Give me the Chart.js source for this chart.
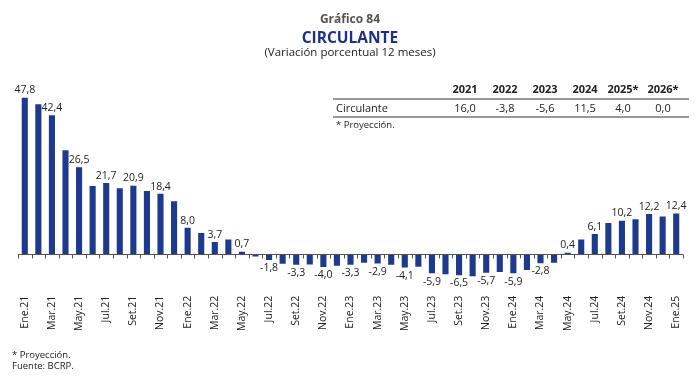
<!DOCTYPE html>
<html>
<head>
<meta charset="utf-8">
<script src="https://cdn.jsdelivr.net/npm/chart.js@4.4.1/dist/chart.umd.min.js"></script>
<style>
  body { margin: 0; background: #fff; font-family: 'Open Sans', sans-serif; }
  #wrap { position: relative; width: 700px; height: 382px; }
  #grafico { position: absolute; left: 0; top: 0; }
  .txt { position: absolute; white-space: nowrap; }
  .centro { left: 0; width: 700px; text-align: center; }
  #tabla { position: absolute; left: 333px; top: 80px; width: 356px; font-size: 11px; color: #222; }
  #tabla .fila { position: relative; }
  #tabla .cab { height: 18px; font-weight: bold; border-bottom: 2px solid #9a9a9a; }
  #tabla .dat { height: 16px; border-bottom: 2px solid #9a9a9a; }
  #tabla span { position: absolute; transform: translateX(-50%); }
  #tabla .cab span { top: 1px; }
  #tabla .dat span { top: 0px; }
  #tabla .dat .nombre { transform: none; left: 3px; }
</style>
</head>
<body>
<div id="wrap">
  <canvas id="grafico" width="700" height="382"></canvas>
  <div class="txt centro" style="top:10px; font-size:12px; font-weight:bold; color:#555;">Gráfico 84</div>
  <div class="txt centro" style="top:26px; font-size:15.5px; font-weight:bold; color:#1c2f8a;">CIRCULANTE</div>
  <div class="txt centro" style="top:44px; font-size:11.5px; color:#222;">(Variación porcentual 12 meses)</div>
  <div id="tabla"></div>
  <div class="txt" style="left:12px; top:348px; font-size:9.5px; color:#222;">* Proyección.</div>
  <div class="txt" style="left:12px; top:359px; font-size:9.5px; color:#222;">Fuente: BCRP.</div>
</div>
<script>
// meses (Ene.21 - Ene.25)
const meses = [
  'Ene.21','Feb.21','Mar.21','Abr.21','May.21','Jun.21','Jul.21','Ago.21','Set.21','Oct.21','Nov.21','Dic.21',
  'Ene.22','Feb.22','Mar.22','Abr.22','May.22','Jun.22','Jul.22','Ago.22','Set.22','Oct.22','Nov.22','Dic.22',
  'Ene.23','Feb.23','Mar.23','Abr.23','May.23','Jun.23','Jul.23','Ago.23','Set.23','Oct.23','Nov.23','Dic.23',
  'Ene.24','Feb.24','Mar.24','Abr.24','May.24','Jun.24','Jul.24','Ago.24','Set.24','Oct.24','Nov.24','Dic.24',
  'Ene.25'
];

// variación porcentual 12 meses del circulante
const circulante = [
  47.8, 45.8, 42.4, 31.7, 26.5, 20.8, 21.7, 20.1, 20.9, 19.3, 18.4, 16.1,
  8.0, 6.4, 3.7, 4.4, 0.7, -0.8, -1.8, -3.0, -3.3, -3.2, -4.0, -3.6,
  -3.3, -2.7, -2.9, -3.3, -4.1, -3.9, -5.9, -6.2, -6.5, -6.8, -5.7, -5.5,
  -5.9, -4.9, -2.8, -2.7, 0.4, 4.4, 6.1, 9.5, 10.2, 10.6, 12.2, 11.5,
  12.4
];

// tabla anual
const anios = ['2021', '2022', '2023', '2024', '2025*', '2026*'];
const anual = [16.0, -3.8, -5.6, 11.5, 4.0, 0.0];
const columnas = [465, 505, 545, 585, 623, 663];

const azul = '#1e3a8f';
const fmt = v => v.toFixed(1).replace('.', ',');

// armar tabla
const tabla = document.getElementById('tabla');
let cab = '<div class="fila cab">';
anios.forEach((a, i) => { cab += `<span style="left:${columnas[i] - 333}px">${a}</span>`; });
cab += '</div>';
let dat = '<div class="fila dat"><span class="nombre">Circulante</span>';
anual.forEach((v, i) => { dat += `<span style="left:${columnas[i] - 333}px">${fmt(v)}</span>`; });
dat += '</div>';
tabla.innerHTML = cab + dat + '<div style="font-size:9.5px; padding:0 0 0 3px;">* Proyección.</div>';

// línea del cero con marcas entre barras
const lineaCero = {
  id: 'lineaCero',
  afterDatasetsDraw(chart) {
    const { ctx, chartArea, scales } = chart;
    const y0 = Math.round(scales.y.getPixelForValue(0)) + 0.5;
    const paso = scales.x.getPixelForValue(1) - scales.x.getPixelForValue(0);
    ctx.save();
    ctx.strokeStyle = '#555';
    ctx.lineWidth = 1;
    ctx.beginPath();
    ctx.moveTo(chartArea.left, y0);
    ctx.lineTo(chartArea.right, y0);
    for (let i = 0; i <= meses.length; i++) {
      const x = Math.round(scales.x.getPixelForValue(i) - paso / 2) + 0.5;
      ctx.moveTo(x, y0);
      ctx.lineTo(x, y0 + 4);
    }
    ctx.stroke();
    ctx.restore();
  }
};

// etiquetas de valores (meses alternos)
const etiquetas = {
  id: 'etiquetas',
  afterDatasetsDraw(chart) {
    const { ctx } = chart;
    const meta = chart.getDatasetMeta(0);
    ctx.save();
    ctx.font = '10.5px "Open Sans"';
    ctx.fillStyle = '#222';
    ctx.textAlign = 'center';
    meta.data.forEach((bar, i) => {
      if (i % 2 !== 0) return;
      const v = circulante[i];
      if (v >= 0) {
        ctx.textBaseline = 'bottom';
        ctx.fillText(fmt(v), bar.x, bar.y - 2);
      } else {
        ctx.textBaseline = 'top';
        ctx.fillText(fmt(v), bar.x, bar.y + 3);
      }
    });
    ctx.restore();
  }
};

new Chart(document.getElementById('grafico'), {
  type: 'bar',
  data: {
    labels: meses,
    datasets: [{
      data: circulante,
      backgroundColor: azul,
      categoryPercentage: 1,
      barPercentage: 0.45
    }]
  },
  options: {
    responsive: false,
    animation: false,
    layout: { padding: { left: 18, right: 17, top: 90.5, bottom: 45.3 } },
    plugins: { legend: { display: false }, tooltip: { enabled: false } },
    scales: {
      x: {
        grid: { display: false },
        border: { display: false },
        ticks: {
          autoSkip: false,
          minRotation: 90,
          maxRotation: 90,
          padding: 1,
          color: '#222',
          font: { family: 'Open Sans', size: 10.5 },
          callback: (v, i) => (i % 2 === 0 ? meses[i] : '')
        },
        afterFit: s => { s.height = 50; }
      },
      y: {
        display: false,
        min: -10,
        max: 50
      }
    }
  },
  plugins: [lineaCero, etiquetas]
});
</script>
</body>
</html>
